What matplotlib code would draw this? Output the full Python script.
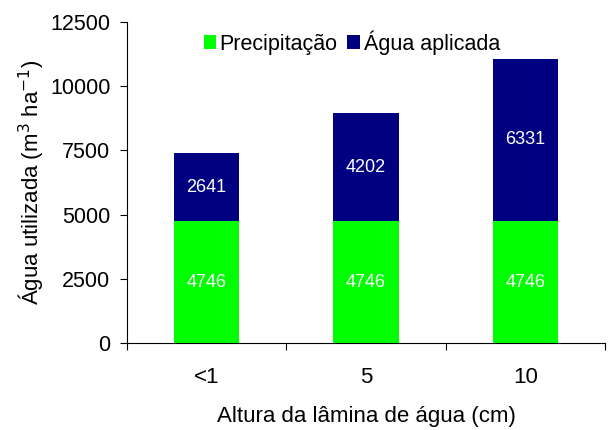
import numpy as np
import matplotlib
matplotlib.use("Agg")
import matplotlib.pyplot as plt

plt.rcParams['font.family'] = ['Liberation Sans', 'DejaVu Sans']

categorias = ['<1', '5', '10']
precipitacao = [4746, 4746, 4746]
agua_aplicada = [2641, 4202, 6331]
yticks = [0, 2500, 5000, 7500, 10000, 12500]

fig = plt.figure(figsize=(6.1, 4.3), dpi=100)
ax = fig.add_axes([127/610, 1 - 343/430, (605 - 127)/610, (343 - 22)/430])

x = np.arange(len(categorias))
w = 0.41
ax.bar(x, precipitacao, w, color='#00FF00', label='Precipitação')
ax.bar(x, agua_aplicada, w, bottom=precipitacao, color='#000080', label='Água aplicada')

# valores dentro das barras
for xi, p, a in zip(x, precipitacao, agua_aplicada):
    ax.text(xi, p / 2, str(p), ha='center', va='center', color='white', fontsize=13)
    ax.text(xi, p + a / 2, str(a), ha='center', va='center', color='white', fontsize=13)

ax.set_xlim(-0.5, len(categorias) - 0.5)
ax.set_ylim(0, 12500)
ax.set_yticks(yticks)
ax.set_yticklabels([str(v) for v in yticks], fontsize=15.5)

# ticks do eixo x entre as categorias, rótulos no centro
ax.set_xticks(np.arange(-0.5, len(categorias)), minor=False)
ax.set_xticklabels([])
ax.set_xticks(x, minor=True)
ax.set_xticklabels(categorias, minor=True, fontsize=16)
ax.tick_params(axis='x', which='minor', length=0, pad=17)
ax.tick_params(axis='x', which='major', direction='out', length=5)
ax.tick_params(axis='y', direction='out', length=5, pad=7)

ax.spines['top'].set_visible(False)
ax.spines['right'].set_visible(False)

ax.set_xlabel('Altura da lâmina de água (cm)', fontsize=16, labelpad=13)
ax.set_ylabel('Água utilizada (m$^3$ ha$^{-1}$)', fontsize=16, labelpad=3)

ax.legend(loc='upper center', bbox_to_anchor=(0.47, 1.035), ncol=2, frameon=False,
          fontsize=15.5, handlelength=0.6, handleheight=0.6, handletextpad=0.15,
          columnspacing=0.45)

fig.savefig('out.png', dpi=100)
